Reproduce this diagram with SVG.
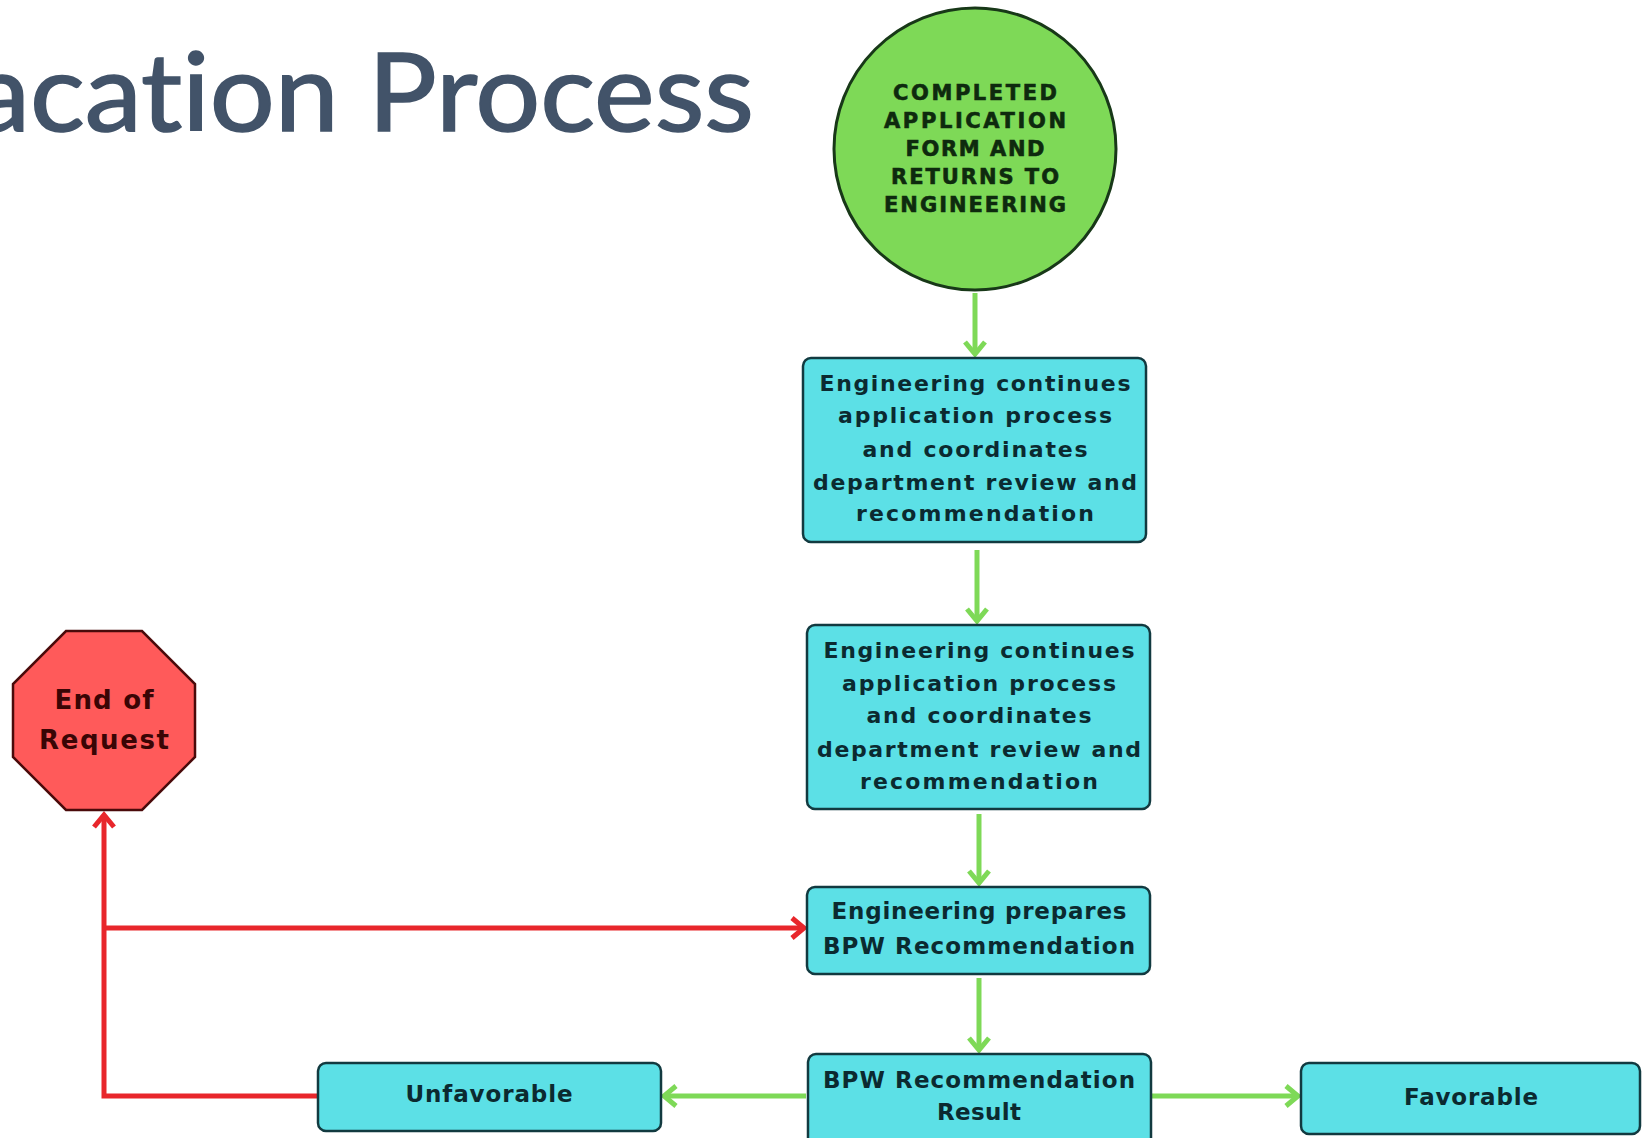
<svg xmlns="http://www.w3.org/2000/svg" width="1642" height="1138" viewBox="0 0 1642 1138">
<style>
.title{font-family:Lato,"Open Sans",sans-serif;font-size:108px;fill:#425369;stroke:#425369;stroke-width:1.6;font-variant-ligatures:none;font-feature-settings:"liga" 0,"clig" 0;}
.box{fill:#5CE0E6;stroke:#123a40;stroke-width:2.5;}
.bt{font-family:"DejaVu Sans",sans-serif;font-weight:bold;font-size:22px;fill:#0b2a30;text-anchor:middle;}
.bc{font-family:"DejaVu Sans",sans-serif;font-weight:bold;font-size:23px;fill:#0b2a30;text-anchor:middle;}
.ct{font-family:"DejaVu Sans",sans-serif;font-weight:bold;font-size:21px;fill:#0e2a0e;text-anchor:middle;stroke:#0e2a0e;stroke-width:0.6;}
.ot{font-family:"DejaVu Sans",sans-serif;font-weight:bold;font-size:26px;fill:#3a0505;text-anchor:middle;}
.g{stroke:#7ED957;stroke-width:5;fill:none;}
.r{stroke:#E8262B;stroke-width:5;fill:none;}
</style>
<defs>
<marker id="ag" markerUnits="userSpaceOnUse" markerWidth="26" markerHeight="26" viewBox="0 0 26 26" refX="18" refY="13" orient="auto">
<path d="M6,3 L18,13 L6,23" fill="none" stroke="#7ED957" stroke-width="5" stroke-linejoin="miter"/>
</marker>
<marker id="ar" markerUnits="userSpaceOnUse" markerWidth="26" markerHeight="26" viewBox="0 0 26 26" refX="18" refY="13" orient="auto">
<path d="M6,3 L18,13 L6,23" fill="none" stroke="#E8262B" stroke-width="5" stroke-linejoin="miter"/>
</marker>
</defs>
<rect width="1642" height="1138" fill="#ffffff"/>
<text class="title" x="-27" y="131" textLength="781" lengthAdjust="spacingAndGlyphs">acation Process</text>

<g id="connectors">
<line class="g" x1="975" y1="293" x2="975" y2="354" marker-end="url(#ag)"/>
<line class="g" x1="977" y1="550" x2="977" y2="621" marker-end="url(#ag)"/>
<line class="g" x1="979" y1="814" x2="979" y2="883" marker-end="url(#ag)"/>
<line class="g" x1="979" y1="978" x2="979" y2="1050" marker-end="url(#ag)"/>
<line class="g" x1="806" y1="1096" x2="664" y2="1096" marker-end="url(#ag)"/>
<line class="g" x1="1152" y1="1096" x2="1298" y2="1096" marker-end="url(#ag)"/>
<polyline class="r" points="318,1096 104,1096 104,815" marker-end="url(#ar)"/>
<line class="r" x1="104" y1="928" x2="804" y2="928" marker-end="url(#ar)"/>
</g>

<g id="start">
<circle cx="975" cy="149" r="141" fill="#7ED957" stroke="#183818" stroke-width="3"/>
<text class="ct" x="975" y="100" textLength="164">COMPLETED</text>
<text class="ct" x="975" y="128" textLength="182">APPLICATION</text>
<text class="ct" x="975" y="156" textLength="139">FORM AND</text>
<text class="ct" x="975" y="184" textLength="168">RETURNS TO</text>
<text class="ct" x="975" y="212" textLength="182">ENGINEERING</text>
</g>

<g id="review1">
<rect class="box" x="803" y="358" width="343" height="184" rx="8"/>
<text class="bt" x="975" y="391" textLength="311">Engineering continues</text>
<text class="bt" x="975" y="423" textLength="274">application process</text>
<text class="bt" x="975" y="457" textLength="225">and coordinates</text>
<text class="bt" x="975" y="490" textLength="324">department review and</text>
<text class="bt" x="975" y="521" textLength="238">recommendation</text>
</g>

<g id="review2">
<rect class="box" x="807" y="625" width="343" height="184" rx="8"/>
<text class="bt" x="979" y="658" textLength="311">Engineering continues</text>
<text class="bt" x="979" y="691" textLength="274">application process</text>
<text class="bt" x="979" y="723" textLength="225">and coordinates</text>
<text class="bt" x="979" y="757" textLength="324">department review and</text>
<text class="bt" x="979" y="789" textLength="238">recommendation</text>
</g>

<g id="prepare">
<rect class="box" x="807" y="887" width="343" height="87" rx="8"/>
<text class="bc" x="979" y="919" textLength="295">Engineering prepares</text>
<text class="bc" x="979" y="954" textLength="312">BPW Recommendation</text>
</g>

<g id="result">
<rect class="box" x="808" y="1054" width="343" height="100" rx="8"/>
<text class="bc" x="979" y="1088" textLength="312">BPW Recommendation</text>
<text class="bc" x="979" y="1120" textLength="84">Result</text>
</g>

<g id="unfavorable">
<rect class="box" x="318" y="1063" width="343" height="68" rx="8"/>
<text class="bc" x="489" y="1102" textLength="167">Unfavorable</text>
</g>

<g id="favorable">
<rect class="box" x="1301" y="1063" width="339" height="71" rx="8"/>
<text class="bc" x="1471" y="1105" textLength="134">Favorable</text>
</g>

<g id="end">
<polygon points="66,631 142,631 195,684 195,757 142,810 66,810 13,757 13,684" fill="#FF5A5A" stroke="#4a0a0a" stroke-width="2.5"/>
<text class="ot" x="104" y="709" textLength="99">End of</text>
<text class="ot" x="104" y="749" textLength="130">Request</text>
</g>
</svg>
